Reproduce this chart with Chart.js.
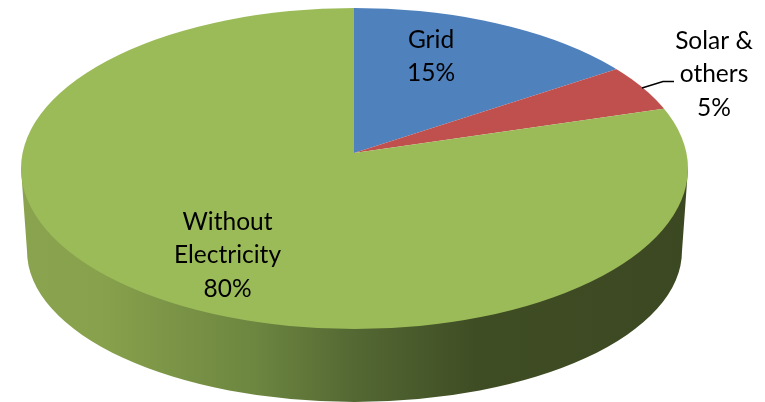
<!DOCTYPE html>
<html>
<head>
<meta charset="utf-8">
<title>Electricity access</title>
<script src="https://cdn.jsdelivr.net/npm/chart.js@4"></script>
<style>
    html, body { margin: 0; padding: 0; background: #fff; overflow: hidden; }
    canvas { display: block; }
</style>
</head>
<body>
<canvas id="pie-chart" width="765" height="402" style="width:765px;height:402px"></canvas>
<script>
// Share of each source, in percent
const categories = ['Grid', 'Solar & others', 'Without Electricity'];
const shares = [15, 5, 80];
const colors = ['#4f81bd', '#c0504d', '#9bbb59'];

// Text of the data labels, one list per label
const labelLines = [['Grid', '15%'], ['Solar &', 'others', '5%'], ['Without', 'Electricity', '80%']];
const labelSpots = [[431, 40], [714, 41], [227.5, 222]];

// Fake 3D: the top face is the pie squashed and clipped to an ellipse that sits below the apex
const apex = { x: 354, y: 153 };
const squash = 0.44;
const topFace = { x: 354.5, y: 168.5, rx: 333.5, ry: 160.5 };
const bottomFace = { x: 354.5, y: 251, rx: 327.5, ry: 151 };

const pie3d = {
    id: 'pie3d',
    beforeDatasetsDraw(chart) {
        const ctx = chart.ctx;

        // side wall
        const wall = ctx.createLinearGradient(20, 0, 690, 0);
        wall.addColorStop(0, '#89a34e');
        wall.addColorStop(0.12, '#87a14c');
        wall.addColorStop(0.35, '#6d8640');
        wall.addColorStop(0.5, '#536833');
        wall.addColorStop(0.68, '#3f4d24');
        wall.addColorStop(1, '#3c4822');
        ctx.save();
        ctx.beginPath();
        ctx.moveTo(topFace.x - topFace.rx, topFace.y);
        ctx.lineTo(bottomFace.x - bottomFace.rx, bottomFace.y);
        ctx.ellipse(bottomFace.x, bottomFace.y, bottomFace.rx, bottomFace.ry, 0, Math.PI, 0, true);
        ctx.lineTo(topFace.x + topFace.rx, topFace.y);
        ctx.closePath();
        ctx.fillStyle = wall;
        ctx.fill();
        ctx.restore();

        // top face
        ctx.save();
        ctx.beginPath();
        ctx.ellipse(topFace.x, topFace.y, topFace.rx, topFace.ry, 0, 0, Math.PI * 2);
        ctx.clip();
        ctx.translate(apex.x, apex.y);
        ctx.scale(1, squash);
        ctx.translate(-apex.x, -apex.y);
    },
    afterDatasetsDraw(chart) {
        chart.ctx.restore();
    },
    afterDraw(chart) {
        const ctx = chart.ctx;
        ctx.save();

        // leader line of the small slice
        ctx.strokeStyle = '#000';
        ctx.lineWidth = 1.5;
        ctx.beginPath();
        ctx.moveTo(642, 88);
        ctx.lineTo(663, 81.5);
        ctx.lineTo(674, 81.5);
        ctx.stroke();

        ctx.fillStyle = '#000';
        ctx.font = '24.5px Lato';
        ctx.textAlign = 'center';
        ctx.textBaseline = 'middle';
        labelLines.forEach((lines, i) => {
            lines.forEach((line, j) => {
                ctx.fillText(line, labelSpots[i][0], labelSpots[i][1] + j * 33.5);
            });
        });
        ctx.restore();
    }
};

const ctx = document.getElementById('pie-chart').getContext('2d');
const chart = new Chart(ctx, {
    type: 'pie',
    data: {
        labels: categories,
        datasets: [{
            data: shares,
            backgroundColor: colors,
            borderWidth: 0,
            clip: false,
            radius: 480
        }]
    },
    options: {
        responsive: false,
        animation: false,
        events: [],
        layout: { padding: { right: 57, bottom: 96 } }, // puts the apex at 354,153
        plugins: {
            legend: { display: false },
            tooltip: { enabled: false }
        }
    },
    plugins: [pie3d]
});
</script>
</body>
</html>
